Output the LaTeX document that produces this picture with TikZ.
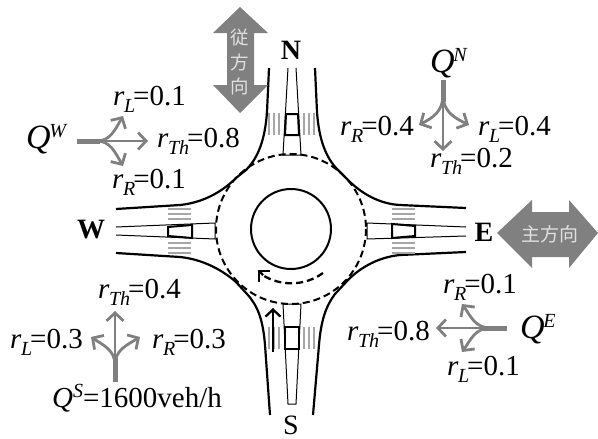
\documentclass[tikz,border=0pt]{standalone}
\usepackage{fontspec}
\setmainfont{Liberation Serif}
\newfontfamily\cjk{Noto Sans CJK JP}
\usetikzlibrary{arrows.meta}
\newcommand{\rlab}[2]{\textit{r}\kern-0.5pt\raisebox{-7pt}{\fontsize{20}{20}\selectfont\textit{#1}}\kern-2pt=#2}
\newcommand{\qlab}[1]{{\fontsize{34}{34}\selectfont\textit{Q}}\kern-1.5pt\raisebox{11pt}{\fontsize{20}{20}\selectfont\textit{#1}}}
\tikzset{
 x=1pt,y=-1pt,
 lab/.style={anchor=base west,inner sep=0pt,font=\fontsize{29}{29}\selectfont},
 dir/.style={anchor=center,inner sep=0pt,font=\fontsize{28}{28}\selectfont\bfseries},
 road/.style={line width=2.2pt,black},
 island/.style={line width=1pt,black},
 cell/.style={line width=2pt,black},
 bars/.style={line width=2.4pt,black!35},
 flow/.style={line width=2.8pt,black!50,-{Straight Barb[length=8pt,width=17pt,line width=2.8pt]}},
 trunk/.style={line width=5pt,black!50},
 bigarrow/.style={fill=black!50,draw=none},
 cjklab/.style={inner sep=0pt,text=black!12,font=\cjk\fontsize{18.5}{18.5}\selectfont}
}
\begin{document}
\begin{tikzpicture}
\useasboundingbox (0,0) rectangle (598,439);
% roads
\draw[road] (269,68) -- (267,112) .. controls (265,140) and (258,158) .. (246,170) -- (236,178) .. controls (220,194) and (200,203) .. (180,205) -- (116,209);
\draw[road] (315,68) -- (317,112) .. controls (319,140) and (326,158) .. (338,170) -- (348,180) .. controls (362,194) and (380,204) .. (400,205) -- (466,208);
\draw[road] (116,253) -- (180,257) .. controls (200,259) and (220,268) .. (236,282) -- (247,294) .. controls (258,306) and (263,320) .. (265,345) -- (270,415);
\draw[road] (466,252) -- (400,255) .. controls (380,257) and (362,266) .. (348,280) -- (335,294) .. controls (326,306) and (321,320) .. (319,345) -- (313,415);
% circles
\draw[line width=2pt] (291,229) circle[radius=40];
\draw[line width=2pt,dash pattern=on 7pt off 4pt] (291,229) circle[radius=75];
% islands
\draw[island] (288,68) -- (283,155) -- (301,155) -- (296,68);
\draw[island] (116,227) -- (215,223) -- (215,239) -- (116,235);
\draw[island] (466,227) -- (367,223) -- (367,239) -- (466,236);
\draw[island] (283,304) -- (288,404) -- (296,404) -- (301,304) -- cycle;
% stripes
\foreach \x in {269,274,279,304,309,314}{\draw[bars] (\x,113) -- (\x,135);\draw[bars] (\x,327) -- (\x,349);}
\foreach \y in {209,214,219,243,248,253}{\draw[bars] (168,\y) -- (191,\y);\draw[bars] (392,\y) -- (415,\y);}
% cells
\draw[cell] (286,114) -- (298,114) -- (299,135) -- (285,135) -- cycle;
\draw[cell] (285,327) -- (299,327) -- (299,349) -- (285,349) -- cycle;
\draw[cell] (168,227) -- (192,225) -- (192,238) -- (168,236) -- cycle;
\draw[cell] (392,224) -- (415,226) -- (415,236) -- (392,238) -- cycle;
% black arrows
\draw[line width=2.3pt,-{Straight Barb[length=7pt,width=15pt,line width=2.3pt]}] (273,352) -- (273,308);
\draw[line width=2.3pt,dash pattern=on 7pt off 4pt] (323,273) arc[start angle=54,end angle=122,radius=54];
\draw[line width=2.3pt,-{Straight Barb[length=8pt,width=16pt,line width=2.3pt]}] (263,275) -- (258,270);
% big arrows
\path[bigarrow] (240,7) -- (268,33) -- (254,33) -- (254,85) -- (268,85) -- (240,113) -- (213,85) -- (227,85) -- (227,33) -- (213,33) -- cycle;
\path[bigarrow] (497,233) -- (532,200) -- (532,212) -- (569,212) -- (569,200) -- (598,233) -- (569,268) -- (569,257) -- (532,257) -- (532,268) -- cycle;
\node[cjklab] (t1) at (240,38) {従};
\node[cjklab] (t2) at (240,62) {方};
\node[cjklab] (t3) at (240,86) {向};
\node[cjklab,font=\cjk\fontsize{19}{19}\selectfont] (t4) at (550,234) {主方向};
% flow W
\draw[trunk] (77,141) -- (100,141);
\draw[flow] (95,141) -- (148,141);
\draw[flow] (97,141) .. controls (110,141) and (115,130) .. (123,116);
\draw[flow] (97,141) .. controls (110,141) and (115,152) .. (123,166);
% flow S
\draw[trunk] (115,382) -- (115,358);
\draw[flow] (115,365) -- (115,311);
\draw[flow] (115,365) .. controls (115,350) and (103,345) .. (91,337);
\draw[flow] (115,365) .. controls (115,350) and (127,345) .. (140,337);
% flow N
\draw[trunk] (443,80) -- (443,102);
\draw[flow] (443,95) -- (443,151);
\draw[flow] (443,95) .. controls (443,112) and (432,118) .. (419,125);
\draw[flow] (443,95) .. controls (443,112) and (455,118) .. (469,125);
% flow E
\draw[trunk] (507,328) -- (482,328);
\draw[flow] (490,328) -- (436,328);
\draw[flow] (490,328) .. controls (475,328) and (470,315) .. (462,304);
\draw[flow] (490,328) .. controls (475,328) and (470,341) .. (462,352);
% direction letters
\node[dir] (N) at (291,50) {N};
\node[dir,font=\fontsize{28}{28}\selectfont] (S) at (291,425) {S};
\node[dir] (W) at (91,230) {W};
\node[dir] (E) at (484,232) {E};
% labels
\node[lab] (a1) at (113,105) {\rlab{L}{0.1}};
\node[lab] (a2) at (157,147) {\rlab{Th}{0.8}};
\node[lab] (a3) at (112,188) {\rlab{R}{0.1}};
\node[lab] (a4) at (26,148) {\qlab{W}};
\node[lab] (b1) at (98,298) {\rlab{Th}{0.4}};
\node[lab] (b2) at (10,348) {\rlab{L}{0.3}};
\node[lab] (b3) at (152,348) {\rlab{R}{0.3}};
\node[lab] (b4) at (52,407) {\textit{Q}\raisebox{10pt}{\fontsize{20}{20}\selectfont\textit{S}}=1600veh/h};
\node[lab] (c1) at (340,135) {\rlab{R}{0.4}};
\node[lab] (c2) at (478,135) {\rlab{L}{0.4}};
\node[lab] (c3) at (430,167) {\rlab{Th}{0.2}};
\node[lab] (c4) at (430,72) {\qlab{N}};
\node[lab] (d1) at (443,293) {\rlab{R}{0.1}};
\node[lab] (d2) at (347,340) {\rlab{Th}{0.8}};
\node[lab] (d3) at (447,375) {\rlab{L}{0.1}};
\node[lab] (d4) at (520,338) {\qlab{E}};
\end{tikzpicture}
\end{document}
